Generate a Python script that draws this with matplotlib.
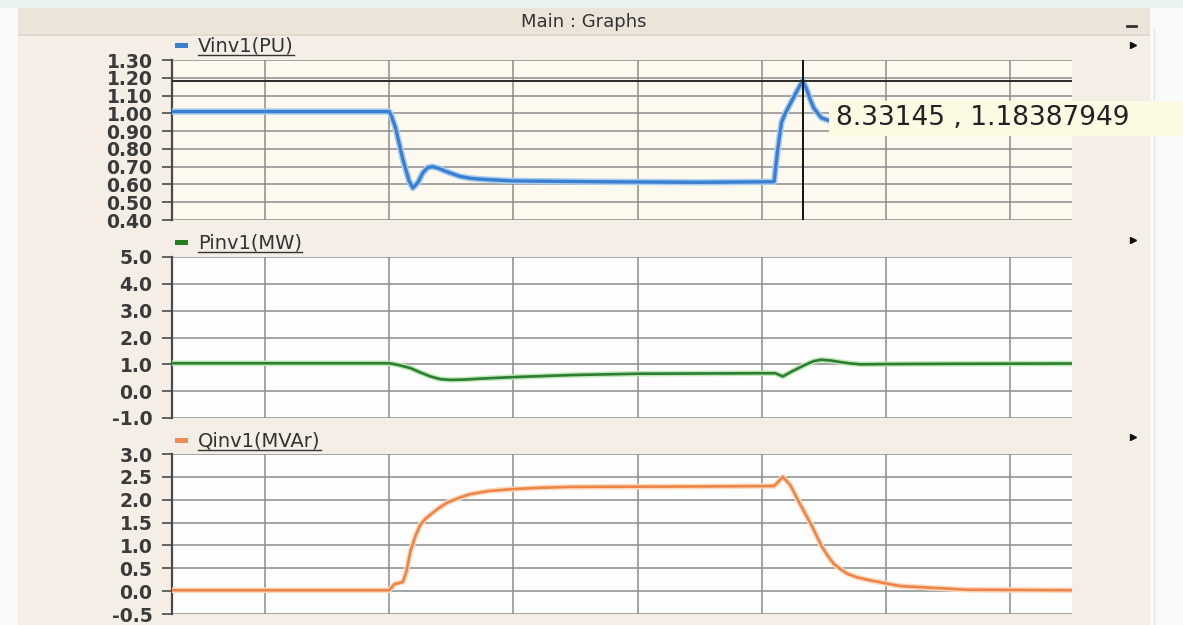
import matplotlib
matplotlib.use("Agg")
import matplotlib.pyplot as plt
from matplotlib.patches import Rectangle
from matplotlib.lines import Line2D

W, H = 1183, 625

# Vinv1 (PU)
t_v = [3.25, 5.00, 5.02, 5.05, 5.11, 5.16, 5.19, 5.23, 5.27, 5.31, 5.35, 5.40, 5.45, 5.57,
       5.65, 5.73, 5.98, 6.70, 7.51, 8.10, 8.13, 8.16, 8.19, 8.22, 8.28, 8.33, 8.36, 8.39,
       8.42, 8.48, 8.56, 8.62]
v_pu = [1.01, 1.01, 0.98, 0.92, 0.74, 0.62, 0.58, 0.61, 0.665, 0.695, 0.70, 0.69, 0.675, 0.645,
        0.635, 0.63, 0.62, 0.615, 0.612, 0.615, 0.80, 0.95, 1.00, 1.04, 1.12, 1.184, 1.14, 1.08,
        1.03, 0.975, 0.955, 0.95]

# Pinv1 (MW)
t_p = [3.25, 5.00, 5.08, 5.17, 5.25, 5.33, 5.41, 5.49, 5.60, 5.75, 5.98, 6.46, 7.00, 8.11,
       8.17, 8.25, 8.35, 8.42, 8.48, 8.56, 8.64, 8.72, 8.80, 9.00, 9.50, 10.5]
p_mw = [1.04, 1.04, 0.97, 0.86, 0.70, 0.55, 0.45, 0.42, 0.43, 0.47, 0.52, 0.60, 0.65, 0.67,
        0.55, 0.75, 0.98, 1.12, 1.17, 1.14, 1.08, 1.03, 1.00, 1.01, 1.02, 1.03]

# Qinv1 (MVAr)
t_q = [3.25, 5.00, 5.04, 5.11, 5.14, 5.17, 5.21, 5.25, 5.29, 5.33, 5.40, 5.47, 5.56, 5.65,
       5.80, 5.98, 6.20, 6.46, 7.51, 8.10, 8.13, 8.17, 8.23, 8.31, 8.40, 8.48, 8.53, 8.58,
       8.64, 8.69, 8.77, 8.85, 9.00, 9.12, 9.39, 9.66, 10.5]
q_mvar = [0.02, 0.02, 0.15, 0.20, 0.45, 0.87, 1.20, 1.45, 1.58, 1.67, 1.82, 1.94, 2.04, 2.12,
          2.19, 2.23, 2.26, 2.28, 2.29, 2.30, 2.38, 2.50, 2.32, 1.90, 1.45, 1.00, 0.78, 0.60,
          0.47, 0.38, 0.30, 0.25, 0.17, 0.11, 0.07, 0.03, 0.02]

v_ticks = [0.40, 0.50, 0.60, 0.70, 0.80, 0.90, 1.00, 1.10, 1.20, 1.30]
p_ticks = [-1.0, 0.0, 1.0, 2.0, 3.0, 4.0, 5.0]
q_ticks = [-0.5, 0.0, 0.5, 1.0, 1.5, 2.0, 2.5, 3.0]
x_grid = [4, 5, 6, 7, 8, 9, 10]

cursor_t = "8.33145"
cursor_v = "1.18387949"

window_title = "Main : Graphs"


def fx(px):
    return px / W


def fy(py):
    return 1 - py / H


def rect(fig, x0, y0, x1, y1, color, z=-5):
    fig.add_artist(Rectangle((fx(x0), fy(y1)), fx(x1) - fx(x0), fy(y0) - fy(y1),
                             transform=fig.transFigure, facecolor=color,
                             edgecolor='none', zorder=z))


def setup(fig, top, bottom, ylim, ticks, fmt, bg):
    ax = fig.add_axes([fx(172), fy(bottom), fx(1072) - fx(172), (bottom - top) / H])
    ax.set_facecolor(bg)
    ax.set_xlim(3.25, 10.5)
    ax.set_ylim(*ylim)
    ax.set_xticks(x_grid)
    ax.set_yticks(ticks)
    ax.set_yticklabels([fmt.format(v) for v in ticks])
    ax.grid(True, color='#8c8c8c', lw=1.1)
    ax.set_axisbelow(True)
    for s in ['top', 'right', 'bottom']:
        ax.spines[s].set_visible(False)
    ax.spines['left'].set_color('#4a4a4a')
    ax.spines['left'].set_linewidth(1.6)
    ax.tick_params(axis='x', length=0, labelbottom=False)
    ax.tick_params(axis='y', length=7, width=1.2, color='#4a4a4a', pad=7,
                   labelsize=13.5, labelcolor='#3a3a3a')
    for lab in ax.get_yticklabels():
        lab.set_fontweight('bold')
    return ax


def legend(fig, py, label, color):
    rect(fig, 175, py - 3, 188, py + 2, color, z=5)
    t = fig.text(fx(198), fy(py), label, fontsize=14, color='#333333',
                 ha='left', va='center')
    return t


fig = plt.figure(figsize=(W / 100, H / 100), dpi=100)
fig.patch.set_facecolor('#f8fbfa')

# window chrome
rect(fig, 0, 0, W, 8, '#eaf3f2')
rect(fig, 18, 8, 1150, H, '#f4eee6')
rect(fig, 18, 8, 1150, 34, '#ece3d9')
rect(fig, 18, 34, 1150, 36, '#e3d9ce')
fig.add_artist(Line2D([fx(1154), fx(1154)], [0, fy(30)], color='#dfe5e2', lw=1,
                      transform=fig.transFigure))
fig.text(fx(584), fy(22), window_title, fontsize=13, color='#333333', ha='center', va='center')
fig.add_artist(Line2D([fx(1127), fx(1136)], [fy(26), fy(26)], color='#333333', lw=2,
                      transform=fig.transFigure))
for py in [45, 240, 437]:
    fig.add_artist(Line2D([fx(1133)], [fy(py)], marker='>', ms=5, color='#111111',
                          transform=fig.transFigure))

ax1 = setup(fig, 60, 220, (0.40, 1.30), v_ticks, '{:.2f}', '#fdf9ef')
ax2 = setup(fig, 257, 418, (-1.0, 5.0), p_ticks, '{:.1f}', '#fefefe')
ax3 = setup(fig, 454, 614, (-0.5, 3.0), q_ticks, '{:.1f}', '#fefefe')

ax1.plot(t_v, v_pu, color='#a9cdf0', lw=4.6, solid_joinstyle='round', zorder=3)
ax1.plot(t_v, v_pu, color='#3b80d0', lw=2.4, solid_joinstyle='round', zorder=4)
ax1.axhline(float(cursor_v), color='#2b2b2b', lw=1.4, zorder=5)
ax1.axvline(float(cursor_t), color='#111111', lw=1.4, zorder=5)

ax2.plot(t_p, p_mw, color='#bfe8b8', lw=4.0, solid_joinstyle='round', zorder=3)
ax2.plot(t_p, p_mw, color='#2d7d32', lw=1.9, solid_joinstyle='round', zorder=4)

ax3.plot(t_q, q_mvar, color='#fcd9bd', lw=4.0, solid_joinstyle='round', zorder=3)
ax3.plot(t_q, q_mvar, color='#ee8448', lw=1.9, solid_joinstyle='round', zorder=4)

# cursor tooltip
rect(fig, 829, 101, W, 136, '#fbfbe4', z=15)
fig.text(fx(836), fy(118), f"{cursor_t} , {cursor_v}", fontsize=19, color='#222222',
         ha='left', va='center', zorder=20)

labels = [legend(fig, 46, 'Vinv1(PU)', '#3b80d0'),
          legend(fig, 243, 'Pinv1(MW)', '#1f7f1f'),
          legend(fig, 441, 'Qinv1(MVAr)', '#f08a55')]

# underline legend labels
fig.canvas.draw()
r = fig.canvas.get_renderer()
for t in labels:
    bb = t.get_window_extent(r)
    y = bb.y0 + 1
    fig.add_artist(Line2D([bb.x0 / W, bb.x1 / W], [y / H, y / H], color='#333333', lw=1,
                          transform=fig.transFigure))

fig.savefig('out.png', dpi=100)
